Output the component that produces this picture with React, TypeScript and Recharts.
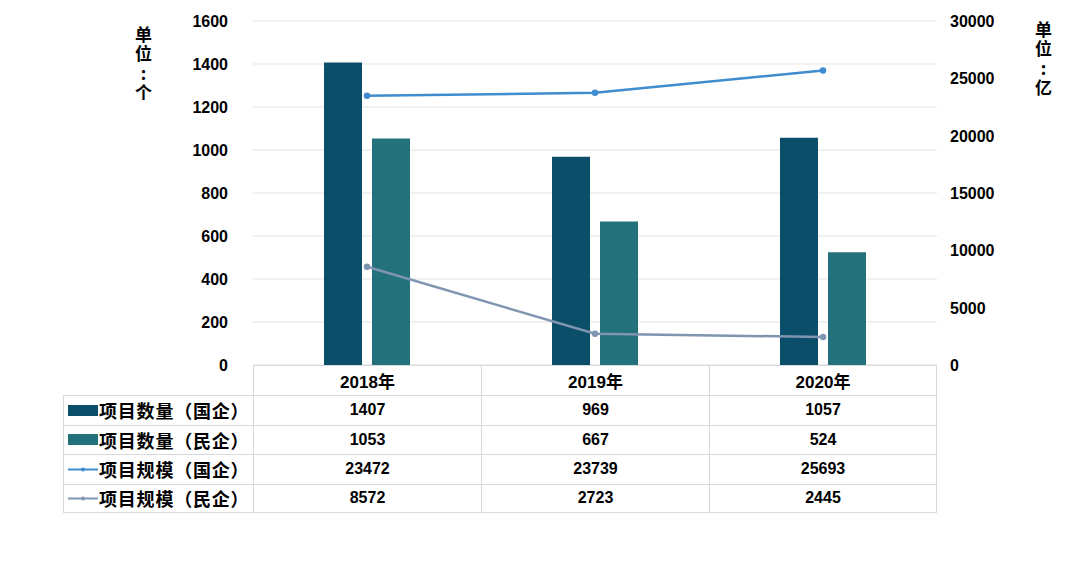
import React from "react";
import { ComposedChart, Bar, Line, XAxis, YAxis, CartesianGrid } from "recharts";

const years = ["2018年", "2019年", "2020年"];
const countSoe = [1407, 969, 1057];
const countPrivate = [1053, 667, 524];
const scaleSoe = [23472, 23739, 25693];
const scalePrivate = [8572, 2723, 2445];
const leftTicks = [0, 200, 400, 600, 800, 1000, 1200, 1400, 1600];
const rightTicks = [0, 5000, 10000, 15000, 20000, 25000, 30000];

const seriesNames = ["项目数量（国企）", "项目数量（民企）", "项目规模（国企）", "项目规模（民企）"];
const seriesValues = [countSoe, countPrivate, scaleSoe, scalePrivate];
const colors = ["#0a4e6a", "#22717b", "#3f8ccf", "#8095b0"];

const data = years.map((y, i) => ({
  year: y,
  countSoe: countSoe[i],
  countPrivate: countPrivate[i],
  scaleSoe: scaleSoe[i],
  scalePrivate: scalePrivate[i],
}));

const FONT = '"Liberation Sans", Arial, "Noto Sans CJK SC", sans-serif';
const BORDER = "1px solid #d9d9d9";

const TickLeft = (props: any) => (
  <text x={props.x} y={props.y} dy={6} textAnchor="end" fontSize={16} fontWeight="bold" fill="#000" fontFamily={FONT}>
    {props.payload.value}
  </text>
);
const TickRight = (props: any) => (
  <text x={props.x} y={props.y} dy={6} textAnchor="start" fontSize={16} fontWeight="bold" fill="#000" fontFamily={FONT}>
    {props.payload.value}
  </text>
);

function VerticalLabel({ text, left, top }: { text: string; left: number; top: number }) {
  return (
    <div
      style={{
        position: "absolute",
        left,
        top,
        writingMode: "vertical-rl",
        textOrientation: "upright",
        fontSize: 17,
        fontWeight: "bold",
        letterSpacing: 2.5,
        lineHeight: "20px",
        fontFamily: '"Noto Sans CJK SC", sans-serif',
      }}
    >
      {text}
    </div>
  );
}

function LegendIcon({ index }: { index: number }) {
  if (index < 2) {
    return <div style={{ width: 30, height: 11, background: colors[index], marginRight: 1, flexShrink: 0 }} />;
  }
  return (
    <svg width={31} height={11} style={{ flexShrink: 0 }}>
      <line x1={0} y1={5.5} x2={30} y2={5.5} stroke={colors[index]} strokeWidth={2} />
      <circle cx={15} cy={5.5} r={2} fill={colors[index]} />
    </svg>
  );
}

export default function App() {
  const colW = 228;
  const rowH = 29.5;
  return (
    <div style={{ position: "absolute", left: 0, top: 0, width: 1080, height: 563, background: "#fff", fontFamily: FONT }}>
      <ComposedChart width={1080} height={385} data={data} margin={{ top: 21, right: 83, bottom: 20, left: 193 }} barSize={38} barGap={10}>
        <CartesianGrid vertical={false} stroke="#e3e3e3" yAxisId="left" />
        <XAxis dataKey="year" hide />
        <YAxis yAxisId="left" domain={[0, 1600]} ticks={leftTicks} width={60} axisLine={false} tickLine={false} tickSize={0} tickMargin={25} tick={<TickLeft />} interval={0} />
        <YAxis yAxisId="right" orientation="right" domain={[0, 30000]} ticks={rightTicks} width={60} axisLine={false} tickLine={false} tickSize={0} tickMargin={13} tick={<TickRight />} interval={0} />
        <Bar yAxisId="left" dataKey="countSoe" fill={colors[0]} isAnimationActive={false} />
        <Bar yAxisId="left" dataKey="countPrivate" fill={colors[1]} isAnimationActive={false} />
        <Line yAxisId="right" dataKey="scaleSoe" stroke={colors[2]} strokeWidth={2.5} dot={{ r: 2, fill: colors[2], stroke: colors[2] }} isAnimationActive={false} />
        <Line yAxisId="right" dataKey="scalePrivate" stroke={colors[3]} strokeWidth={2.5} dot={{ r: 2, fill: colors[3], stroke: colors[3] }} isAnimationActive={false} />
      </ComposedChart>

      <VerticalLabel text="单位:个" left={133} top={26} />
      <VerticalLabel text="单位:亿" left={1033} top={21} />

      <div style={{ position: "absolute", left: 63, top: 365 }}>
        <div style={{ display: "flex", height: 30 }}>
          <div style={{ width: 190 }} />
          {years.map((y, i) => (
            <div key={y} style={{ width: colW, height: 30, borderTop: BORDER, borderLeft: BORDER, borderRight: i === 2 ? BORDER : undefined, boxSizing: "border-box", display: "flex", alignItems: "center", justifyContent: "center", fontSize: 17, fontWeight: "bold", background: "#fff" }}>
              {y}
            </div>
          ))}
        </div>
        {seriesNames.map((name, r) => (
          <div key={name} style={{ display: "flex", height: rowH, borderTop: BORDER, borderLeft: BORDER, boxSizing: "border-box", width: 190 + colW * 3, borderBottom: r === 3 ? BORDER : undefined, background: "#fff" }}>
            <div style={{ width: 189, display: "flex", alignItems: "center", paddingLeft: 4, boxSizing: "border-box", fontSize: 18, fontWeight: "bold", fontFamily: '"Noto Sans CJK SC", sans-serif', whiteSpace: "nowrap", letterSpacing: 0.8 }}>
              <LegendIcon index={r} />
              {name}
            </div>
            {seriesValues[r].map((v, i) => (
              <div key={i} style={{ width: colW, borderLeft: BORDER, borderRight: i === 2 ? BORDER : undefined, boxSizing: "border-box", display: "flex", alignItems: "center", justifyContent: "center", fontSize: 16, fontWeight: "bold" }}>
                {v}
              </div>
            ))}
          </div>
        ))}
      </div>
    </div>
  );
}
